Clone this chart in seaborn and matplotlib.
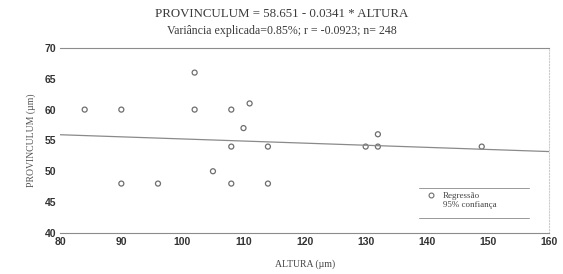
import numpy as np
import pandas as pd
import seaborn as sns
import matplotlib.pyplot as plt
from matplotlib.lines import Line2D

# dados
altura = [84, 90, 90, 96, 102, 102, 105, 108, 108, 108, 110, 111, 114, 114, 130, 132, 132, 149]
provinculum = [60, 60, 48, 48, 66, 60, 50, 60, 54, 48, 57, 61, 54, 48, 54, 54, 56, 54]
intercepto = 58.651
inclinacao = -0.0341
reta_x = [80, 160]
x_ticks = [80, 90, 100, 110, 120, 130, 140, 150, 160]
y_ticks = [40, 45, 50, 55, 60, 65, 70]

sns.set_theme(style="white")
plt.rcParams['font.family'] = ['Liberation Sans', 'DejaVu Sans']

df = pd.DataFrame({"ALTURA": altura, "PROVINCULUM": provinculum})
reta = pd.DataFrame({"x": reta_x, "y": [intercepto + inclinacao * v for v in reta_x]})

fig, ax = plt.subplots(figsize=(5.63, 2.74), dpi=100)
fig.subplots_adjust(left=0.107, right=0.975, top=0.825, bottom=0.15)

cinza = "#6e6e6e"
sns.lineplot(data=reta, x="x", y="y", ax=ax, color="#8a8a8a", lw=0.9)
sns.scatterplot(data=df, x="ALTURA", y="PROVINCULUM", ax=ax, marker="o", s=13,
                facecolors="none", edgecolor=cinza, linewidth=0.9)

ax.set_xlim(80, 160)
ax.set_ylim(40, 70)
ax.set_xticks(x_ticks)
ax.set_yticks(y_ticks)
ax.tick_params(labelsize=7.5, colors="#333333", length=0, pad=3)
for lab in ax.get_xticklabels() + ax.get_yticklabels():
    lab.set_fontweight("bold")

serif = ['Liberation Serif', 'DejaVu Serif']
ax.set_xlabel("ALTURA (µm)", fontsize=7, family=serif, color="#444444", labelpad=9)
ax.set_ylabel("PROVINCULUM (µm)", fontsize=7, family=serif, color="#555555", labelpad=6)

for s in ["top", "bottom"]:
    ax.spines[s].set_color("#8c8c8c")
    ax.spines[s].set_linewidth(0.8)
ax.spines["left"].set_visible(False)
ax.spines["right"].set_color("#cccccc")
ax.spines["right"].set_linestyle(":")
ax.spines["right"].set_linewidth(0.8)

fig.text(0.5, 0.95, "PROVINCULUM = 58.651 - 0.0341 * ALTURA", ha="center", va="center",
         fontsize=9.3, family=serif, color="#3a3a3a")
fig.text(0.5, 0.888, "Variância explicada=0.85%; r = -0.0923; n= 248", ha="center", va="center",
         fontsize=8.6, family=serif, color="#3a3a3a")

handles = [Line2D([], [], ls="none", marker="o", ms=3.5, mfc="none", mec=cinza, mew=0.8),
           Line2D([], [], ls="none")]
leg = ax.legend(handles, ["Regressão", "95% confiança"], loc="lower right",
                bbox_to_anchor=(0.91, 0.085), frameon=False, handlelength=1.4,
                handletextpad=0.6, labelspacing=0.1,
                prop={"family": serif, "size": 6.5}, labelcolor="#444444")
ax.plot([0.735, 0.96], [0.243, 0.243], transform=ax.transAxes, color="#999999", lw=0.7)
ax.plot([0.735, 0.96], [0.082, 0.082], transform=ax.transAxes, color="#999999", lw=0.7)

fig.savefig("out.png", dpi=100, facecolor="white")
